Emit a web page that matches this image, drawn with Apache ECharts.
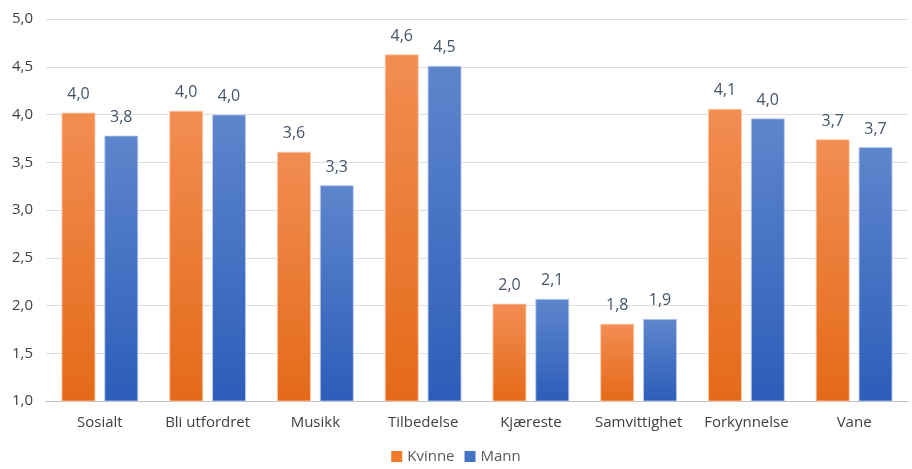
<!DOCTYPE html>
<html>
<head>
<meta charset="utf-8">
<script src="https://cdn.jsdelivr.net/npm/echarts@6/dist/echarts.min.js"></script>
<style>
  html, body { margin: 0; padding: 0; background: #fff; }
  #chart { width: 912px; height: 469px; }
</style>
</head>
<body>
<div id="chart"></div>
<script>
var categories = ['Sosialt', 'Bli utfordret', 'Musikk', 'Tilbedelse', 'Kjæreste', 'Samvittighet', 'Forkynnelse', 'Vane'];
var kvinne = [4.02, 4.04, 3.61, 4.63, 2.02, 1.81, 4.06, 3.74];
var mann = [3.78, 4.0, 3.26, 4.51, 2.07, 1.86, 3.96, 3.66];
var yTicks = [1.0, 1.5, 2.0, 2.5, 3.0, 3.5, 4.0, 4.5, 5.0];

function comma(v, d) {
    return v.toFixed(d).replace('.', ',');
}

function grad(top, bottom) {
    return new echarts.graphic.LinearGradient(0, 0, 0, 1, [
        {offset: 0, color: top},
        {offset: 1, color: bottom}
    ]);
}

var chart = echarts.init(document.getElementById('chart'));
var labelStyle = {
    show: true,
    position: 'top',
    distance: 10,
    color: '#44546A',
    fontSize: 16,
    fontFamily: 'Open Sans',
    formatter: function (p) { return comma(p.value, 1); }
};

var option = {
    animation: false,
    grid: {left: 46, right: 4, top: 19, bottom: 68},
    legend: {
        bottom: 0,
        itemWidth: 11,
        itemHeight: 11,
        itemGap: 10,
        icon: 'rect',
        textStyle: {color: '#595959', fontSize: 15, fontFamily: 'Open Sans'},
        data: [
            {name: 'Kvinne', itemStyle: {color: '#F07A2A', borderWidth: 0}},
            {name: 'Mann', itemStyle: {color: '#4472C4', borderWidth: 0}}
        ]
    },
    xAxis: {
        type: 'category',
        data: categories,
        axisTick: {show: false},
        axisLine: {lineStyle: {color: '#bfbfbf', width: 1}},
        axisLabel: {interval: 0, color: '#404040', fontSize: 15, fontFamily: 'Open Sans', margin: 14}
    },
    yAxis: {
        type: 'value',
        min: yTicks[0],
        max: yTicks[yTicks.length - 1],
        interval: 0.5,
        axisLine: {show: false},
        axisTick: {show: false},
        splitLine: {lineStyle: {color: '#dedede', width: 1}},
        axisLabel: {
            color: '#404040', fontSize: 15, fontFamily: 'Open Sans', margin: 13,
            formatter: function (v) { return comma(v, 1); }
        }
    },
    series: [
        {
            name: 'Kvinne',
            type: 'bar',
            data: kvinne,
            barWidth: 34,
            barGap: '26%',
            itemStyle: {
                color: grad('#F28D52', '#E46A18'),
                borderColor: 'rgba(255,200,170,0.8)',
                borderWidth: 1
            },
            label: labelStyle
        },
        {
            name: 'Mann',
            type: 'bar',
            data: mann,
            barWidth: 34,
            itemStyle: {
                color: grad('#5E86CD', '#2C5DB9'),
                borderColor: 'rgba(190,205,235,0.8)',
                borderWidth: 1
            },
            label: labelStyle
        }
    ]
};
chart.setOption(option);
</script>
</body>
</html>
